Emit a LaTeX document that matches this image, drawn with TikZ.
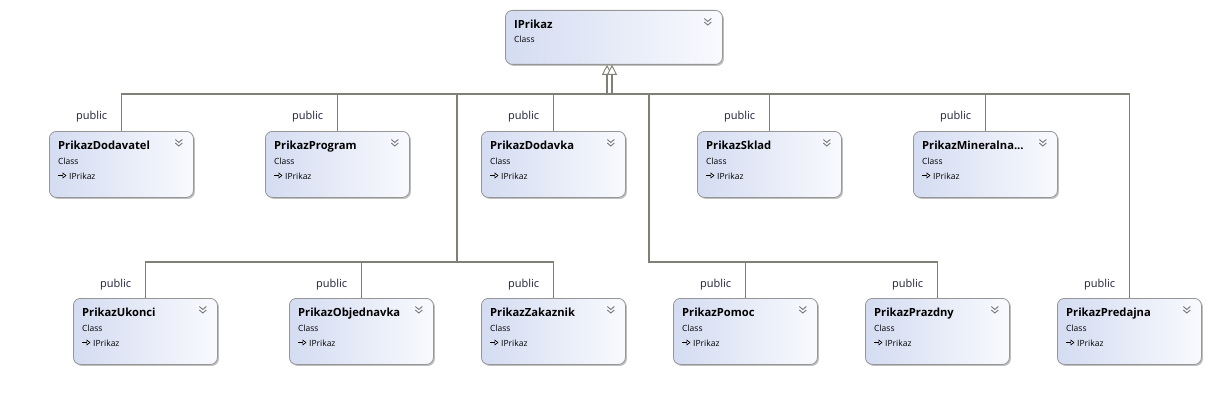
\documentclass[tikz,border=0pt]{standalone}
\usepackage{fontspec}
\setmainfont{Open Sans}
\usetikzlibrary{arrows.meta,shadows,calc}
\definecolor{boxborder}{RGB}{150,150,150}
\definecolor{boxleft}{RGB}{212,220,241}
\definecolor{boxright}{RGB}{249,250,254}
\definecolor{connc}{RGB}{128,128,118}
\definecolor{chevc}{RGB}{120,120,120}
\definecolor{pubc}{RGB}{30,30,60}
\tikzset{
  cls/.style={draw=boxborder, line width=0.8pt, rounded corners=7pt,
    left color=boxleft, right color=boxright, minimum width=144pt, minimum height=66pt,
    inner sep=0pt, drop shadow={shadow xshift=1.5pt, shadow yshift=-1.5pt, opacity=0.25, fill=black}},
  ttl/.style={inner sep=0pt, font=\fontsize{11.2}{13}\selectfont\bfseries},
  subt/.style={inner sep=0pt, font=\fontsize{8.5}{10}\selectfont},
  pub/.style={inner sep=0pt, text=pubc, font=\fontsize{11}{13}\selectfont},
  chev/.style={draw=chevc, line width=0.9pt},
  conn/.style={draw=connc, line width=1.4pt},
  inh/.style={conn, -{Triangle[length=10pt, width=10pt, fill=white, line width=0.9pt]}},
  realz/.style={line width=0.8pt, -{Triangle[length=4pt, width=6pt, fill=white, line width=0.7pt]}}
}
\newcommand\chevrons[1]{%
  \draw[chev] ($(#1.north east)+(-18.5,8.5)$) -- ++(3.5,3) -- ++(3.5,-3);
  \draw[chev] ($(#1.north east)+(-18.5,12)$) -- ++(3.5,3) -- ++(3.5,-3);
}
\newcommand\clsbox[4]{%
  \node[cls, anchor=north west] (#1) at (#2,#3) {};
  \node[ttl, anchor=base west] (#1t) at ($(#1.north west)+(9,18.5)$) {#4};
  \node[subt, anchor=base west] (#1c) at ($(#1.north west)+(9,33)$) {Class};
  \coordinate (#1r) at ($(#1.north west)+(9,44.5)$);
  \draw[realz] (#1r) -- ++(8.5,0);
  \node[subt, anchor=base west] (#1i) at ($(#1.north west)+(20,48)$) {IPrikaz};
  \chevrons{#1}
}
\begin{document}
\begin{tikzpicture}[x=1pt,y=-1pt]
\useasboundingbox (0,0) rectangle (1216,412);
% base class
\node[cls, anchor=north west, minimum width=217pt, minimum height=54pt] (ip) at (505,10) {};
\node[ttl, anchor=base west] (ipt) at ($(ip.north west)+(9,18.5)$) {IPrikaz};
\node[subt, anchor=base west] (ipc) at ($(ip.north west)+(9,33)$) {Class};
\chevrons{ip}
% row 1
\clsbox{dod}{49}{131}{PrikazDodavatel}
\clsbox{prg}{265}{131}{PrikazProgram}
\clsbox{dvk}{481}{131}{PrikazDodavka}
\clsbox{skl}{697}{131}{PrikazSklad}
\clsbox{min}{913}{131}{PrikazMineralna...}
% row 2
\clsbox{uko}{73}{298}{PrikazUkonci}
\clsbox{obj}{289}{298}{PrikazObjednavka}
\clsbox{zak}{481}{298}{PrikazZakaznik}
\clsbox{pom}{673}{298}{PrikazPomoc}
\clsbox{prz}{865}{298}{PrikazPrazdny}
\clsbox{pre}{1057}{298}{PrikazPredajna}
% connectors
\coordinate (t1) at (607,94);
\coordinate (t2) at (612,94);
\coordinate (l1) at (457,94);
\coordinate (l2) at (457,262);
\coordinate (r1) at (649,94);
\coordinate (r2) at (649,262);
\draw[conn] (dod.north) |- (pre.north |- t1) -- (pre.north);
\foreach \n in {prg,dvk,skl,min}{\draw[conn] (\n.north) -- (\n.north |- t1);}
\draw[conn] (l1) -- (l2);
\draw[conn] (uko.north) |- (zak.north |- l2) -- (zak.north);
\draw[conn] (obj.north) -- (obj.north |- l2);
\draw[conn] (r1) |- (prz.north |- r2) -- (prz.north);
\draw[conn] (pom.north) -- (pom.north |- r2);
\draw[inh] (t1) -- (t1 |- ip.south);
\draw[inh] (t2) -- (t2 |- ip.south);
% public labels
\foreach \n in {dod,prg,dvk,skl,min}{\node[pub, anchor=base east] at ($(\n.north)+(-14,-12)$) {public};}
\foreach \n in {uko,obj,zak,pom,prz,pre}{\node[pub, anchor=base east] at ($(\n.north)+(-14,-11)$) {public};}
\end{tikzpicture}
\end{document}
